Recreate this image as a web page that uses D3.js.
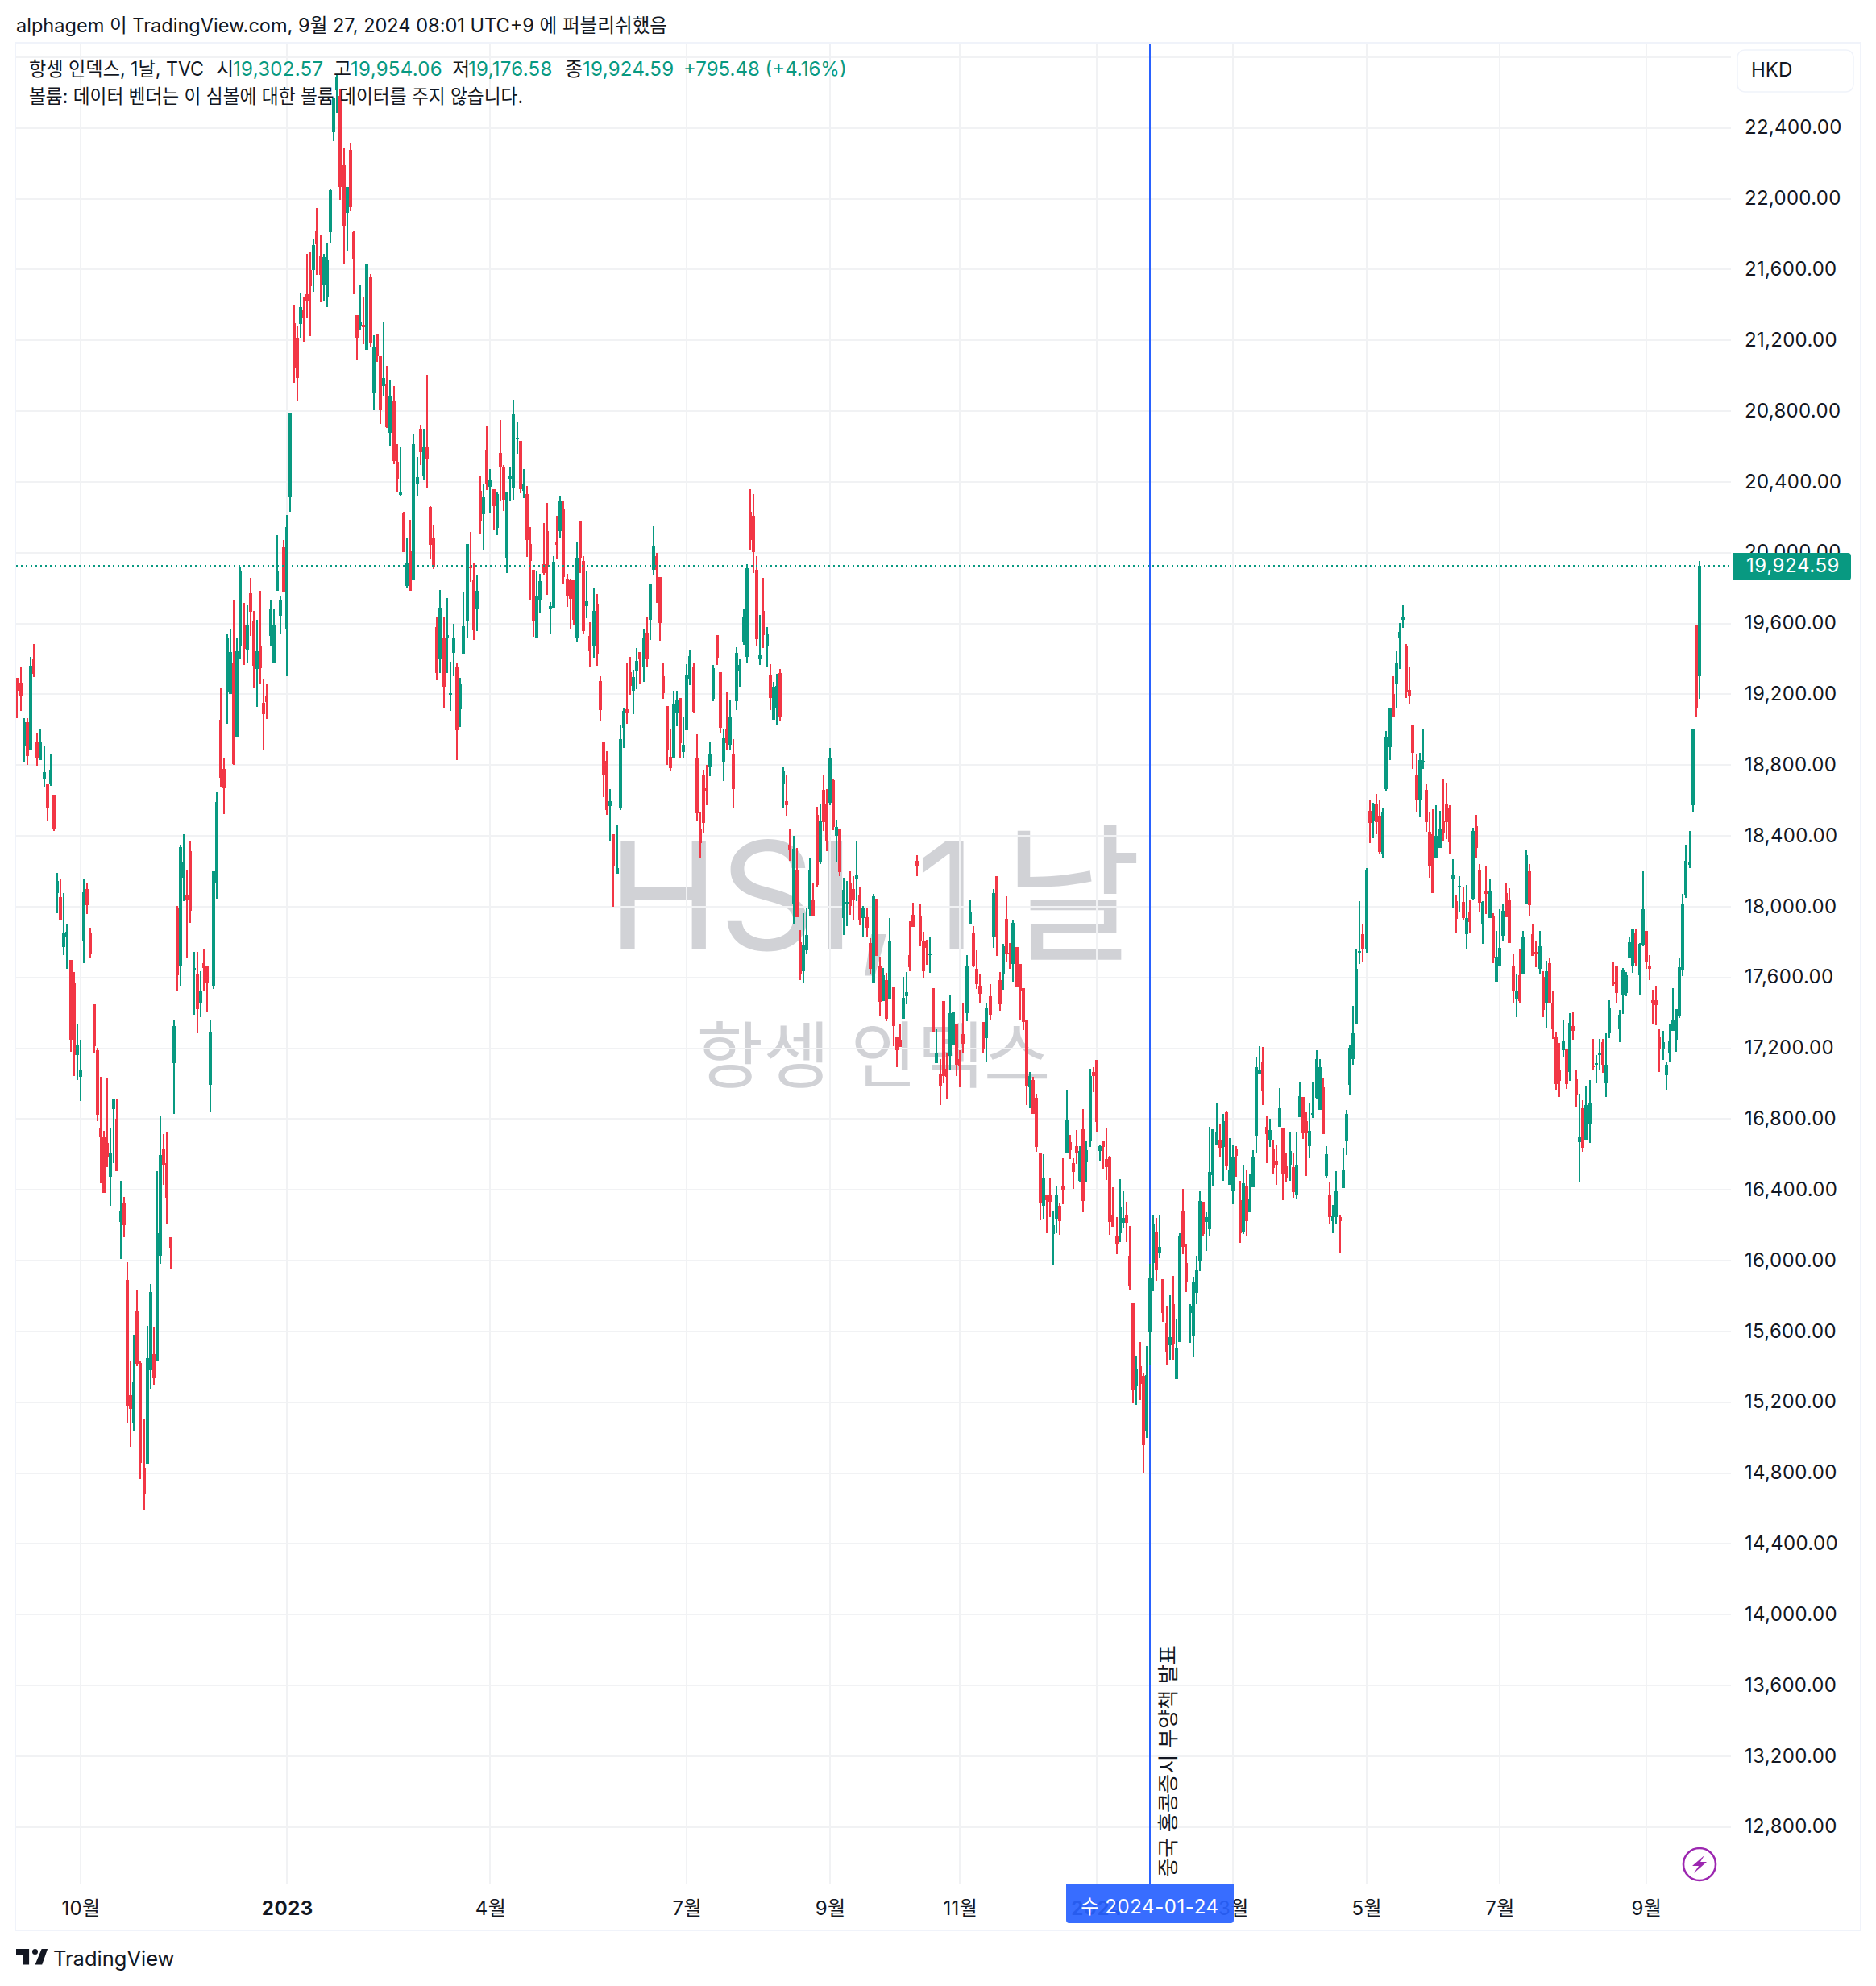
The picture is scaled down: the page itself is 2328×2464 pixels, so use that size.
<!DOCTYPE html>
<html lang="ko">
<head>
<meta charset="utf-8">
<title>항셍 인덱스, 1날</title>
<script src="https://cdn.jsdelivr.net/npm/d3@7"></script>
<style>
  html, body { margin: 0; padding: 0; background: #fff; }
  svg { display: block; }
  text { font-family: Inter, "Noto Sans CJK KR", sans-serif; fill: #131722; }
</style>
</head>
<body>
<svg id="chart" width="2328" height="2464"></svg>
<script>
// Hang Seng Index daily candles, each row is [open, high, low, close].
const bars2022 = [
[19295,19295,19065,19220],[19259,19353,19106,19194],[18911,19067,18820,19041],[19041,19067,18800,18852],
[18888,19411,18888,19359],[19398,19486,19298,19317],[18930,18985,18797,18842],[18829,19008,18829,18930],
[18725,18904,18680,18758],[18693,18693,18488,18559],[18693,18859,18683,18774],[18634,18634,18429,18439],
[18078,18192,17961,18143],[18052,18159,17928,17928],[17772,18075,17724,17850],[17831,17902,17649,17857],
[17701,17701,17181,17246],[17568,17629,17044,17161],[17161,17340,17018,17220],[17040,17249,16904,17076],
[17805,18159,17681,18081],[18098,18137,17958,18007],[17847,17880,17714,17733],[17447,17447,17177,17210],
[17190,17203,16787,16826],[16751,17037,16439,16699],[16699,16735,16384,16384],[16667,17028,16530,16585],
[16472,16748,16309,16608],[16855,16914,16553,16914],[16803,16917,16504,16504],[16221,16449,16007,16276],
[16325,16358,16133,16202],[15893,15990,15080,15174],[15239,15434,14947,15161],[15086,15581,15037,15314],
[15720,15831,15405,15415],[15424,15437,14767,14855],[14829,15109,14595,14683],[14852,15629,14852,15450],
[15382,15867,15275,15824],[15473,15620,15298,15333],[15437,16507,15437,16156],[16026,16816,15980,16595],
[16634,16715,16426,16543],[16550,16725,16211,16355],[16133,16133,15948,16075],[17115,17363,16829,17324],
[17997,18006,17519,17613],[17662,18351,17551,18338],[18163,18410,18033,18250],[18068,18211,17714,18042],
[18312,18374,17909,17977],[17646,17743,17389,17655],[17623,17746,17285,17421],[17454,17636,17376,17519],
[17681,17756,17519,17655],[17668,17668,17408,17568],[16995,17359,16836,17294],[17551,18202,17535,18202],
[18137,18644,18046,18592],[19054,19237,18676,18728],[18780,18839,18524,18667],[19216,19537,19035,19516],
[19203,19569,19203,19438],[19378,19733,18800,18805],[18962,19516,18962,19443],[19477,19922,19401,19898],
[19590,19715,19365,19456],[19451,19707,19378,19590],[19772,19856,19529,19665],[19610,19673,19234,19362],
[19341,19621,19129,19443],[19469,19783,19255,19346],[19153,19284,18884,19090],[19187,19255,19059,19156],
[19529,19733,19477,19678],[19378,19684,19378,19590],[19783,20097,19783,19898],[19642,19759,19537,19733],
[20029,20071,19778,19778]
];
const bars2023a = [
[19569,20212,19302,20144],[20311,20790,20230,20790],[21297,21396,20960,21046],[21216,21281,20858,20986],
[21294,21469,21213,21388],[21373,21441,21190,21325],[21459,21686,21325,21425],[21595,21697,21224,21508],
[21595,21770,21475,21739],[21814,21948,21569,21744],[21673,21796,21417,21569],[21514,21689,21420,21671],
[21448,21752,21386,21652],[21809,22052,21754,22047],[22376,22570,22327,22570],[22614,22706,22484,22688],
[22580,22622,21992,22065],[22188,22285,21629,21843],[21922,22068,21705,22068],[22275,22311,21929,21953],
[21812,21817,21459,21660],[21344,21344,21085,21216],[21281,21511,21258,21299],[21289,21441,21179,21273],
[21148,21634,21148,21629],[21555,21576,21158,21184],[20907,21229,20803,21163],[21231,21237,21077,21111],
[21111,21111,20727,20805],[20941,21305,20886,20986],[20954,21054,20703,20711],[20677,20973,20604,20886],
[20857,20941,20499,20520],[20515,20614,20345,20416],[20327,20599,20322,20345],[20227,20230,20003,20005],
[19814,20084,19801,19940],[20014,20186,19783,19783],[19846,20672,19846,20614],[20387,20541,20322,20426],
[20701,20724,20494,20568],[20431,20701,20410,20596],[20601,21004,20361,20528],[20256,20261,19966,20044],
[20081,20157,19909,19919],[19579,19634,19278,19318],[19399,19788,19320,19691],[19522,19639,19119,19242],
[19516,19744,19320,19535],[19197,19386,19108,19205],[19435,19597,19302,19516],[19351,19380,18826,18999],
[19114,19291,19014,19255],[19427,19775,19427,19584],[19616,20047,19522,20047],[19922,20118,19835,19911],
[19849,19940,19508,19563],[19686,19875,19558,19783],[20348,20431,20110,20183],[20215,20392,20018,20314],
[20580,20719,20353,20392],[20374,20471,20224,20408],[20359,20359,20125,20265],[20138,20341,20098,20330],
[20562,20748,20291,20481],[20480,20494,20237,20301],[19972,20343,19886,20343],[20417,20480,20294,20433],
[20368,20863,20300,20780],[20645,20741,20557,20651],[20631,20631,20336,20359],[20350,20471,20309,20391],
[20330,20375,19976,20071],[20048,20143,19734,19954],[19904,19904,19526,19611],[19517,19900,19517,19754],
[19733,19878,19661,19839],[19934,20166,19877,19887],[20120,20283,19763,19932],[19680,19720,19540,19698],
[19689,19979,19689,19947],[20057,20206,19967,20044],[20121,20321,20082,20291],[20247,20292,19819,19864],
[19855,19878,19695,19756],[19844,19851,19567,19738],[19848,19848,19594,19619],[19520,20058,19499,19970],
[20179,20179,19887,19970],[19952,19981,19538,19558],[19697,19893,19628,19724],[19531,19608,19351,19443],
[19475,19805,19405,19671],[19711,19765,19360,19425],[19275,19301,19045,19112],[18928,18928,18618,18743],
[18824,18878,18518,18545],[18570,18663,18370,18595],[18411,18411,18000,18226],[18186,18464,18186,18217],
[18557,19023,18546,18946],[19011,19122,18897,19104],[19113,19374,19032,19094],[19324,19410,19198,19248],
[19220,19337,19088,19297],[19329,19461,19229,19387],[19437,19437,19256,19398],[19351,19569,19268,19518],
[19547,19637,19351,19401],[19621,19826,19509,19824],[19905,20152,19877,20039],[19979,19997,19715,19905],
[19860,19860,19500,19601],[19301,19374,19173,19207],[19135,19135,18800,18881],[18845,19000,18764,18784],
[18843,19221,18843,19146],[19092,19220,19018,19169],[19178,19178,18836,18926],[18872,19068,18836,18915]
];
const bars2023b = [
[18996,19369,18996,19306],[19283,19446,19250,19414],[19351,19376,19092,19103],[18836,18973,18481,18526],
[18437,18536,18276,18361],[18746,18775,18419,18474],[18671,18802,18572,18654],[18791,18932,18735,18860],
[19173,19364,19160,19347],[19533,19533,19364,19405],[19324,19324,18978,19009],[18820,19000,18708,18950],
[19000,19214,18888,18923],[18915,19169,18887,19072],[18863,18946,18561,18665],[19162,19464,19112,19432],
[19335,19401,19241,19364],[19499,19684,19481,19635],[19409,19936,19378,19913],[20233,20357,20015,20071],
[20206,20330,19887,20004],[19902,19979,19473,19511],[19396,19646,19364,19419],[19670,19857,19463,19533],
[19472,19578,19351,19538],[19306,19369,19110,19178],[19056,19268,19056,19241],[19121,19315,19027,19247],
[19319,19342,19045,19068],[18690,18791,18554,18771],[18595,18746,18514,18573],[18352,18439,18260,18323],
[18017,18398,17900,18326],[18206,18334,17938,17938],[17798,17866,17586,17616],[17634,17961,17572,17786],
[17755,17997,17731,17842],[17986,18272,17945,18206],[18035,18135,17950,17950],[18518,18563,18112,18123],
[18249,18581,18240,18480],[18659,18741,18427,18477],[18578,18663,18314,18375],[18586,18896,18572,18841],
[18713,18723,18431,18451],[18399,18490,18254,18449],[18436,18436,18172,18194],[17935,18162,17839,18094],
[18011,18144,17889,18027],[18131,18199,17953,18002],[18099,18172,17926,18040],[18152,18372,18030,18179],
[18067,18112,17894,17926],[17935,18003,17830,17994],[17939,17994,17830,17880],[17794,17821,17621,17648],
[17572,18074,17572,18058],[18044,18044,17722,17722],[17661,17716,17379,17463],[17466,17652,17466,17611],
[17584,17624,17353,17367],[17481,17935,17481,17807],[17543,17543,17212,17326],[17265,17265,17094,17189],
[17247,17334,17206,17206],[17367,17602,17367,17484],[17494,17630,17449,17516],[17725,17917,17634,17657],
[17953,18021,17885,17885],[18258,18290,18172,18231],[17944,18012,17775,17807],[17803,17857,17598,17634],
[17803,17812,17671,17766],[17725,17830,17625,17734],[17539,17539,17288,17288],[17117,17306,17117,17170],
[17051,17138,16878,16983],[17466,17466,17001,17042],[17083,17174,16915,17037],[17156,17498,17079,17397],
[17220,17407,17220,17407],[17334,17334,17042,17106],[17138,17188,16978,17097],[17279,17457,17174,17224],
[17397,17725,17352,17661],[17903,18035,17898,17967],[17848,17889,17657,17661],[17648,17752,17534,17561],
[17552,17616,17457,17507],[17347,17347,17174,17197],[17256,17452,17124,17425],[17493,17561,17356,17388],
[17830,18099,17766,18076],[18172,18172,17721,17825],[17584,17630,17411,17447],[17620,17789,17529,17775],
[17930,18058,17689,17730],[17739,17794,17648,17730],[17675,17926,17575,17907],[17771,17771,17543,17548],
[17675,17675,17356,17520],[17539,17539,17301,17347],[17356,17356,16878,16988],[16978,17065,16860,17042],
[17021,17038,16828,16828],[16920,16944,16616,16643],[16607,16607,16228,16326],[16308,16602,16233,16466],
[16373,16373,16156,16343],[16373,16466,16247,16331],[16149,16279,15974,16200],[16233,16420,16156,16375],
[16309,16329,16147,16225],[16420,16580,16319,16397],[16607,16966,16607,16794],[16670,16710,16575,16626],
[16552,16580,16407,16503],[16648,16739,16548,16612],[16452,16648,16444,16621],[16744,16856,16272,16339],
[16557,16675,16441,16626],[16675,17085,16643,17043],[17067,17092,16952,17043]
];
const bars2024a = [
[17134,17134,16725,16784],[16621,16658,16565,16648],[16675,16675,16518,16643],[16574,16747,16457,16528],
[16584,16592,16147,16220],[16257,16415,16190,16190],[16142,16247,16038,16094],[16153,16461,16105,16301],
[16215,16393,16188,16243],[16257,16334,16105,16213],[16028,16196,15833,15860],[15765,15765,15196,15273],
[15295,15464,15186,15391],[15405,15541,15211,15305],[15349,15363,14797,14959],[15038,15519,14996,15354],
[15598,15980,15413,15902],[15988,16255,15829,16211],[16161,16242,15888,15947],[16043,16259,16014,16078],
[15897,15897,15656,15703],[15651,15745,15413,15484],[15521,15806,15439,15568],[15755,15913,15439,15529],
[15332,15669,15332,15509],[15538,16156,15538,16137],[16284,16407,16038,16078],[15988,16092,15824,15875],
[15706,15755,15535,15745],[15573,15910,15455,15878],[15819,16028,15752,15947],[16001,16393,15939,16338],
[16334,16334,16137,16149],[16220,16274,16057,16245],[16180,16755,16137,16503],[16484,16744,16425,16744],
[16653,16893,16653,16725],[16685,16776,16589,16636],[16641,16830,16452,16789],[16836,16843,16516,16533],
[16427,16693,16427,16511],[16390,16653,16321,16587],[16629,16648,16474,16594],[16343,16451,16099,16156],
[16166,16542,16149,16439],[16420,16511,16137,16225],[16272,16488,16272,16351],[16414,16626,16414,16589],
[16700,17153,16612,17092],[17055,17212,17055,17079],[17119,17207,16880,16959],[16757,16821,16553,16717],
[16685,16803,16643,16739],[16629,16685,16493,16523],[16562,16653,16429,16538],[16757,16976,16757,16862],
[16745,16750,16343,16493],[16535,16611,16442,16471],[16543,16730,16452,16621],[16530,16611,16356,16388],
[16375,16725,16348,16543],[16809,17008,16809,16931],[16926,16926,16688,16718],[16789,16840,16479,16718],
[16648,16893,16580,16734],[16828,17008,16806,16835],[16920,17190,16917,17139],[16853,17139,16853,17092],
[16979,17030,16717,16717],[16480,16647,16466,16603],[16371,16448,16211,16246],[16222,16315,16157,16250],
[16246,16506,16206,16390],[16248,16255,16046,16222],[16408,16638,16408,16510],[16675,16850,16599,16831],
[16991,17217,16935,17203],[17140,17440,17107,17286],[17333,17760,17333,17649],[17744,18032,17677,17751],
[17846,17900,17686,17760],[17756,18218,17742,18208],[18543,18606,18360,18471],[18487,18585,18387,18580],
[18578,18638,18410,18476],[18511,18606,18297,18308],[18301,18559,18278,18538],[18666,18994,18657,18959],
[18901,19126,18829,19119],[19203,19303,19073,19073],[19256,19444,19119,19375],[19521,19602,19344,19554],
[19619,19702,19577,19633],[19470,19484,19177,19217],[19226,19356,19147,19189],[19024,19024,18778,18868],
[18743,18866,18534,18606]
];
const bars2024b = [
[18601,18871,18506,18829],[18817,19003,18778,18824],[18662,18692,18425,18476],[18425,18538,18164,18225],
[18411,18552,18076,18076],[18278,18573,18278,18401],[18332,18543,18332,18443],[18487,18724,18373,18420],
[18578,18701,18383,18476],[18559,18573,18301,18364],[18160,18269,17996,18178],[18032,18065,17851,17932],
[18109,18174,17974,18118],[18027,18109,17927,17934],[17846,18123,17756,17937],[17967,18041,17853,17911],
[18046,18445,18034,18429],[18455,18520,18274,18332],[18204,18241,17969,18023],[17900,18032,17790,18027],
[18088,18232,17960,18071],[17934,18155,17934,18092],[17948,17965,17679,17714],[17577,17865,17577,17718],
[17663,17988,17663,17767],[17837,18018,17809,17976],[18078,18132,17941,17941],[18034,18104,17795,17795],
[17667,17737,17453,17519],[17477,17618,17377,17523],[17614,17762,17453,17465],[17623,17865,17623,17832],
[18016,18320,18016,18292],[18202,18241,17946,18009],[17846,17900,17723,17723],[17744,17809,17658,17735],
[17649,17865,17623,17776],[17605,17633,17377,17416],[17458,17695,17312,17637],[17681,17709,17454,17454],
[17454,17519,17254,17307],[17263,17291,16966,16998],[17080,17228,16926,17017],[17191,17358,17154,17240],
[17193,17193,16970,16998],[17068,17400,17017,17344],[17326,17409,17249,17300],[17026,17077,16866,16940],
[16671,16945,16443,16699],[16861,16908,16613,16640],[16680,16989,16680,16880],[16771,17021,16666,16894],
[17103,17254,17080,17094],[17110,17163,17003,17117],[17161,17254,17077,17175],[17233,17252,17059,17105],
[17003,17286,16926,17107],[17284,17472,17258,17430],[17574,17686,17552,17562],[17662,17662,17452,17512],
[17309,17417,17233,17390],[17500,17655,17393,17638],[17512,17631,17495,17612],[17707,17826,17707,17798],
[17662,17874,17624,17871],[17850,17876,17662,17679],[17612,17795,17505,17790],[17786,18200,17776,17988],
[17864,17864,17648,17683],[17662,17726,17586,17650],[17471,17531,17336,17452],[17469,17555,17331,17443],
[17262,17307,17067,17195],[17198,17298,17136,17236],[17048,17126,16967,17107],[17174,17333,17126,17238],
[17298,17540,17298,17364],[17250,17419,17179,17419],[17381,17710,17369,17657],[17638,18071,17610,18012],
[18064,18352,18048,18257],[18236,18429,18219,18248],[18571,19002,18536,19002],[19593,19593,19071,19126],
[19302.57,19954.06,19176.58,19924.59]
];
const bars = [...bars2022, ...bars2023a, ...bars2023b, ...bars2024a, ...bars2024b];

const priceTicks = [22400,22000,21600,21200,20800,20400,20000,19600,19200,18800,18400,18000,17600,17200,16800,16400,16000,15600,15200,14800,14400,14000,13600,13200,12800];
const priceGrid = [22800, ...priceTicks];
const timeBars = [19,81,142,201,244,283,324,365,405,445,489];
const timeLabels = ["10월","2023","4월","7월","9월","11월","2024","3월","5월","7월","9월"];
const boldTimeLabels = ["2023","2024"];
const lastPrice = 19924.59;
const eventBar = 340;
const eventLabel = "수 2024-01-24";
const eventNote = "중국 홍콩증시 부양책 발표";
const legendTitle = "항셍 인덱스, 1날, TVC";
const legendFields = [["시","19,302.57"],["고","19,954.06"],["저","19,176.58"],["종","19,924.59"]];
const legendChange = "+795.48 (+4.16%)";

const UP = "#089981", DOWN = "#F23645", BLUE = "#2962FF", BORDER = "#F0F3FA", GRID = "#F1F2F4";
const pane = { left: 20, right: 2148, top: 54, bottom: 2338, frameRight: 2308, frameBottom: 2394 };

const svg = d3.select("#chart");
const x = d3.scaleLinear().domain([0, bars.length - 1]).range([21.45, 2109]);
const y = d3.scaleLinear().domain([22400, 12800]).range([158.7, 2266.7]);
const colour = d => d[3] >= d[0] ? UP : DOWN;

// Watermark sits under everything else in the pane
const markFill = "rgba(120,123,134,0.34)";
const mark = svg.append("g").style("pointer-events", "none");
mark.append("text").attr("x", 754).attr("y", 1178).attr("font-size", 186).style("fill", markFill).text("HSI,");
mark.append("text").attr("x", 1212).attr("y", 1178).attr("font-size", 186).attr("text-anchor", "end")
  .style("fill", markFill).text("1");
mark.append("text").attr("x", 1331).attr("y", 1178).attr("font-size", 186).attr("text-anchor", "middle")
  .style("fill", markFill).text("날");
mark.append("text").attr("x", 1084).attr("y", 1342).attr("font-size", 90).attr("text-anchor", "middle")
  .style("fill", markFill).text("항셍 인덱스");

// Grid
const grid = svg.append("g").attr("stroke", GRID).attr("stroke-width", 2).attr("shape-rendering", "crispEdges");
grid.selectAll("line.h").data(priceGrid).join("line").attr("class", "h")
  .attr("x1", pane.left).attr("x2", pane.right)
  .attr("y1", d => Math.round(y(d))).attr("y2", d => Math.round(y(d)));
grid.selectAll("line.v").data(timeBars).join("line").attr("class", "v")
  .attr("y1", pane.top).attr("y2", pane.bottom)
  .attr("x1", d => Math.round(x(d))).attr("x2", d => Math.round(x(d)));

// Event marker line runs behind the candles
svg.append("line").attr("x1", Math.round(x(eventBar))).attr("x2", Math.round(x(eventBar)))
  .attr("y1", pane.top).attr("y2", pane.bottom)
  .attr("stroke", BLUE).attr("stroke-width", 2).attr("shape-rendering", "crispEdges");

// Candles
const candles = svg.append("g").attr("shape-rendering", "crispEdges");
const candle = candles.selectAll("g").data(bars).join("g").attr("fill", colour);
candle.append("rect")
  .attr("x", (d, i) => Math.round(x(i)) - 1).attr("width", 2)
  .attr("y", d => y(d[1])).attr("height", d => Math.max(1, y(d[2]) - y(d[1])));
candle.append("rect")
  .attr("x", (d, i) => Math.round(x(i)) - 2).attr("width", 4)
  .attr("y", d => y(Math.max(d[0], d[3])))
  .attr("height", d => Math.max(2, Math.abs(y(d[0]) - y(d[3]))));

// Last price line
svg.append("line").attr("x1", pane.left).attr("x2", pane.right + 2)
  .attr("y1", Math.round(y(lastPrice))).attr("y2", Math.round(y(lastPrice)))
  .attr("stroke", UP).attr("stroke-width", 2).attr("stroke-dasharray", "2 4")
  .attr("shape-rendering", "crispEdges");

// Event note, read bottom to top beside the marker
svg.append("text").attr("transform", `translate(${x(eventBar) + 32},2329) rotate(-90)`)
  .attr("font-size", 26).attr("textLength", 288).attr("lengthAdjust", "spacingAndGlyphs").text(eventNote);

// Frame
svg.append("rect").attr("x", pane.left - 1).attr("y", pane.top - 1)
  .attr("width", pane.frameRight - pane.left + 2).attr("height", pane.frameBottom - pane.top + 2)
  .attr("fill", "none").attr("stroke", BORDER).attr("stroke-width", 2);

// Price axis
const priceAxis = svg.append("g").attr("transform", "translate(2165,-0.5)")
  .call(d3.axisRight(y).tickValues(priceTicks).tickFormat(d3.format(",.2f")).tickSize(0).tickPadding(0));
priceAxis.select(".domain").remove();
priceAxis.selectAll("text").attr("font-size", 24).attr("letter-spacing", 0.3)
  .style("font-family", 'Inter, "Noto Sans CJK KR", sans-serif').style("fill", "#131722");

// Time axis
const timeAxis = svg.append("g").attr("transform", "translate(0,2358)")
  .call(d3.axisBottom(x).tickValues(timeBars)
    .tickFormat(i => timeLabels[timeBars.indexOf(i)]).tickSize(0).tickPadding(0));
timeAxis.select(".domain").remove();
timeAxis.selectAll("text").attr("font-size", 24).attr("dy", 0).attr("y", 0)
  .attr("dominant-baseline", "hanging")
  .style("font-family", 'Inter, "Noto Sans CJK KR", sans-serif').style("fill", "#131722")
  .style("font-weight", function () { return boldTimeLabels.includes(this.textContent) ? 700 : 400; })
  .attr("letter-spacing", function () { return boldTimeLabels.includes(this.textContent) ? 0.5 : 0.4; });

// Date tag on the time axis, slightly see-through over the labels
svg.append("path")
  .attr("d", "M1323 2338H1531V2382a4 4 0 0 1 -4 4H1327a4 4 0 0 1 -4 -4Z")
  .attr("fill", BLUE).attr("fill-opacity", 0.93);
svg.append("text").attr("x", x(eventBar)).attr("y", 2367).attr("text-anchor", "middle")
  .attr("dominant-baseline", "middle").attr("font-size", 24).attr("letter-spacing", 0.6)
  .style("fill", "#fff").text(eventLabel);

// Currency badge
svg.append("rect").attr("x", 2156).attr("y", 62).attr("width", 144).attr("height", 52).attr("rx", 9)
  .attr("fill", "#fff").attr("stroke", BORDER).attr("stroke-width", 1.5);
svg.append("text").attr("x", 2173).attr("y", 88).attr("dominant-baseline", "middle").attr("font-size", 24).text("HKD");

// Last price tag
svg.append("path").attr("d", "M2150 686H2293a4 4 0 0 1 4 4V716a4 4 0 0 1 -4 4H2150Z").attr("fill", UP);
svg.append("text").attr("x", 2167).attr("y", 703).attr("dominant-baseline", "middle")
  .attr("font-size", 24).attr("letter-spacing", 0.6).style("fill", "#fff").text("19,924.59");

// Publication line
svg.append("text").attr("x", 20).attr("y", 40).attr("font-size", 24)
  .attr("textLength", 808).attr("lengthAdjust", "spacingAndGlyphs")
  .text("alphagem 이 TradingView.com, 9월 27, 2024 08:01 UTC+9 에 퍼블리쉬했음");

// Symbol legend
const legendY = 94;
svg.append("text").attr("x", 36).attr("y", legendY).attr("font-size", 24)
  .attr("textLength", 217).attr("lengthAdjust", "spacingAndGlyphs").text(legendTitle);
const fieldX = [268, 414, 561, 701], valueX = [289, 435, 581, 723];
legendFields.forEach(([k, v], i) => {
  svg.append("text").attr("x", fieldX[i]).attr("y", legendY).attr("font-size", 24).text(k);
  svg.append("text").attr("x", valueX[i]).attr("y", legendY).attr("font-size", 24)
    .attr("letter-spacing", 0.3).style("fill", UP).text(v);
});
svg.append("text").attr("x", 848).attr("y", legendY).attr("font-size", 24).style("fill", UP).text(legendChange);
svg.append("text").attr("x", 36).attr("y", 128).attr("font-size", 24)
  .attr("textLength", 613).attr("lengthAdjust", "spacingAndGlyphs")
  .text("볼륨: 데이터 벤더는 이 심볼에 대한 볼륨 데이터를 주지 않습니다.");

// Data-update icon
const bolt = svg.append("g").attr("transform", "translate(2109,2313)");
bolt.append("circle").attr("r", 20).attr("fill", "#fff").attr("stroke", "#9C27B0").attr("stroke-width", 2.6);
bolt.append("path").attr("d", "M6 -11L-9 2H-1L-7 11L9 -3H1Z").attr("fill", "#9C27B0");

// Brand mark and wordmark
svg.append("path").attr("transform", "translate(20,2418) scale(1.15)")
  .attr("d", "M14 0H0V6H7V17H14ZM28 17H20.5L27.5 0H34Z").attr("fill", "#131722");
svg.append("circle").attr("cx", 43.5).attr("cy", 2421.5).attr("r", 3.5).attr("fill", "#131722");
svg.append("text").attr("x", 66).attr("y", 2439).attr("font-size", 25.5).text("TradingView");
</script>
</body>
</html>
